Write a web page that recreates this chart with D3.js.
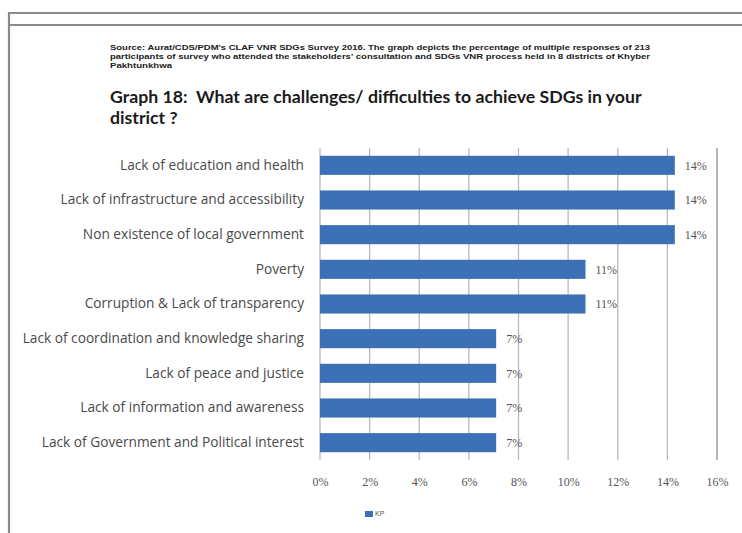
<!DOCTYPE html>
<html>
<head>
<meta charset="utf-8">
<script src="https://cdn.jsdelivr.net/npm/d3@7"></script>
<style>
  html, body { margin: 0; padding: 0; background: #fff; }
  svg { display: block; }
</style>
</head>
<body>
<svg id="chart" width="742" height="533"></svg>
<script>
// Survey responses: share of respondents naming each challenge
const categories = [
  "Lack of education and health",
  "Lack of infrastructure and accessibility",
  "Non existence of local government",
  "Poverty",
  "Corruption & Lack of transparency",
  "Lack of coordination and knowledge sharing",
  "Lack of peace and justice",
  "Lack of information and awareness",
  "Lack of Government and Political interest"
];
const values = [0.143, 0.143, 0.143, 0.107, 0.107, 0.071, 0.071, 0.071, 0.071];
const tickValues = [0, 0.02, 0.04, 0.06, 0.08, 0.10, 0.12, 0.14, 0.16];
const seriesName = "KP";

const sourceLines = [
  "Source: Aurat/CDS/PDM's CLAF VNR SDGs Survey 2016. The graph depicts the percentage of multiple responses of 213",
  "participants of survey who attended the stakeholders' consultation and SDGs VNR process held in 8 districts of Khyber",
  "Pakhtunkhwa"
];
const titleLines = [
  "Graph 18:  What are challenges/ difficulties to achieve SDGs in your",
  "district ?"
];

const svg = d3.select("#chart");
const barColor = "#3c70b5";
const pct = d3.format(".0%");

// page frame
const frame = svg.append("g").attr("stroke", "#8a8a8a").attr("fill", "none");
frame.append("line").attr("x1", 9).attr("x2", 742).attr("y1", 13).attr("y2", 13).attr("stroke-width", 2.2);
frame.append("line").attr("x1", 9).attr("x2", 742).attr("y1", 25).attr("y2", 25).attr("stroke-width", 2);
frame.append("line").attr("x1", 9).attr("x2", 9).attr("y1", 12).attr("y2", 533).attr("stroke-width", 2.2);

// source note
const srcWidths = [540, 540, 62];
svg.append("g").selectAll("text").data(sourceLines).join("text")
  .attr("x", 110)
  .attr("y", (d, i) => 50 + i * 9)
  .attr("font-family", "Liberation Sans, Arial, sans-serif")
  .attr("font-weight", "bold")
  .attr("font-size", 6.5)
  .attr("fill", "#222")
  .attr("textLength", (d, i) => srcWidths[i])
  .attr("lengthAdjust", "spacingAndGlyphs")
  .text(d => d);

// title
svg.append("g").selectAll("text").data(titleLines).join("text")
  .attr("x", 110)
  .attr("y", (d, i) => 103 + i * 21)
  .attr("font-family", "Lato, 'Open Sans', sans-serif")
  .attr("font-weight", "bold")
  .attr("font-size", 17.7)
  .attr("fill", "#1a1a1a")
  .style("white-space", "pre")
  .text(d => d);

// plot area
const x0 = 320, x1 = 717, yTop = 148, yBottom = 460;
const x = d3.scaleLinear().domain([0, 0.16]).range([x0, x1]);
const y = d3.scaleBand().domain(categories).range([yTop, yBottom]).paddingInner(0.45).paddingOuter(0.225);

// vertical gridlines
svg.append("g").selectAll("line").data(tickValues).join("line")
  .attr("x1", d => x(d)).attr("x2", d => x(d))
  .attr("y1", yTop).attr("y2", yBottom)
  .attr("stroke", (d, i) => i === tickValues.length - 1 ? "#8c8c8c" : "#b9b9b9")
  .attr("stroke-width", 1.3);

// bars
svg.append("g").selectAll("rect").data(values).join("rect")
  .attr("x", x(0))
  .attr("y", (d, i) => y(categories[i]))
  .attr("width", d => x(d) - x(0))
  .attr("height", y.bandwidth())
  .attr("fill", barColor);

// value labels
svg.append("g").selectAll("text").data(values).join("text")
  .attr("x", d => x(d) + 10)
  .attr("y", (d, i) => y(categories[i]) + y.bandwidth() / 2)
  .attr("dy", "0.35em")
  .attr("font-family", "Liberation Serif, 'Times New Roman', serif")
  .attr("font-size", 12)
  .attr("fill", "#555")
  .text(d => pct(d));

// category axis
const yAxis = svg.append("g")
  .attr("transform", `translate(${x0},0)`)
  .call(d3.axisLeft(y).tickSize(0).tickPadding(16));
yAxis.select(".domain").remove();
yAxis.selectAll("text")
  .attr("font-family", "'Open Sans', Lato, sans-serif")
  .attr("font-size", 13.7)
  .attr("fill", "#4a4a4a");

// value axis
const xAxis = svg.append("g")
  .attr("transform", `translate(0,${yBottom})`)
  .call(d3.axisBottom(x).tickValues(tickValues).tickFormat(pct).tickSize(0).tickPadding(17));
xAxis.select(".domain").remove();
xAxis.selectAll("text")
  .attr("font-family", "Liberation Serif, 'Times New Roman', serif")
  .attr("font-size", 12)
  .attr("fill", "#555");

// legend
const legend = svg.append("g").attr("transform", "translate(365,511)");
legend.append("rect").attr("width", 8).attr("height", 6).attr("fill", barColor);
legend.append("text").attr("x", 10).attr("y", 3).attr("dy", "0.35em")
  .attr("font-family", "Liberation Sans, Arial, sans-serif")
  .attr("font-size", 7).attr("fill", "#555").text(seriesName);
</script>
</body>
</html>
